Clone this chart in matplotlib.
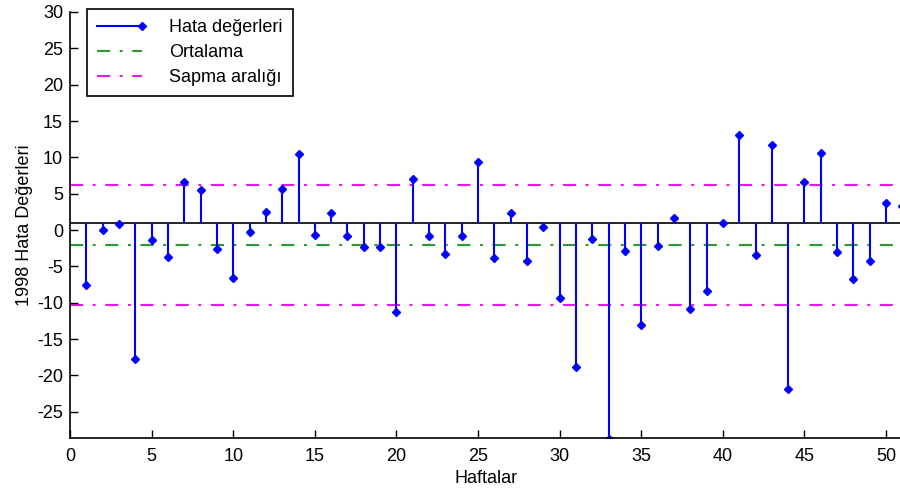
import numpy as np
import matplotlib
matplotlib.use('Agg')
import matplotlib.pyplot as plt
from matplotlib.lines import Line2D
from matplotlib.legend_handler import HandlerLine2D

# Haftalik hata degerleri
weeks = list(range(1, 52))
errors = [-7.55, 0.0, 0.8, -17.8, -1.3, -3.7, 6.6, 5.5, -2.65, -6.55,
          -0.27, 2.47, 5.7, 10.4, -0.64, 2.3, -0.82, -2.3, -2.3, -11.26,
          6.96, -0.82, -3.3, -0.82, 9.38, -3.9, 2.3, -4.3, 0.46, -9.4,
          -18.8, -1.24, -28.7, -2.84, -13.05, -2.24, 1.65, -10.85, -8.38, 1.0,
          13.05, -3.48, 11.68, -21.84, 6.6, 10.62, -3.07, -6.78, -4.3, 3.7,
          3.3]

base_value = 1.0
mean_value = -2.0
upper_value = 6.25
lower_value = -10.25

labels = ['Hata değerleri', 'Ortalama', 'Sapma aralığı']
x_ticks = [0, 5, 10, 15, 20, 25, 30, 35, 40, 45, 50]
y_ticks = [-25, -20, -15, -10, -5, 0, 5, 10, 15, 20, 25, 30]


class EndMarkerHandler(HandlerLine2D):
    # MATLAB style stem legend: marker only at the right end of the line
    def create_artists(self, legend, orig_handle, xdescent, ydescent,
                       width, height, fontsize, trans):
        artists = super().create_artists(legend, orig_handle, xdescent,
                                         ydescent, width, height, fontsize,
                                         trans)
        for a in artists:
            n = len(a.get_xdata())
            a.set_markevery([n - 1])
        return artists


plt.rcParams['font.family'] = ['Liberation Sans', 'DejaVu Sans']
plt.rcParams['font.size'] = 13
plt.rcParams['axes.unicode_minus'] = False

fig = plt.figure(figsize=(9, 4.97), dpi=100)
ax = fig.add_axes([70 / 900, 1 - 438 / 497, 832.4 / 900, 426 / 497])

blue = '#0000ff'
green = '#2e9a2e'
magenta = '#e619e6'
dash_pat = (6.3, 4.6, 1.4, 4.6)

# stems
markers, stems, baseline = ax.stem(weeks, errors, bottom=base_value,
                                   linefmt='-', markerfmt='D')
stems.set_color(blue)
stems.set_linewidth(1.5)
markers.set_color(blue)
markers.set_markersize(4.5)
baseline.set_visible(False)
ax.axhline(base_value, color='black', lw=1.2, zorder=1)

ax.axhline(mean_value, color=green, lw=1.5, dashes=dash_pat, zorder=0.5)
ax.axhline(upper_value, color=magenta, lw=1.5, dashes=dash_pat, zorder=0.5)
ax.axhline(lower_value, color=magenta, lw=1.5, dashes=dash_pat, zorder=0.5)

ax.set_xlim(0, 51)
ax.set_ylim(-28.6, 30)
ax.set_xticks(x_ticks)
ax.set_yticks(y_ticks)
ax.tick_params(direction='in', length=6, width=1, labelsize=13)
ax.tick_params(axis='x', pad=7)
ax.tick_params(axis='y', pad=5)
for side in ['top', 'right']:
    ax.spines[side].set_visible(False)
for side in ['left', 'bottom']:
    ax.spines[side].set_linewidth(1.2)

ax.set_xlabel('Haftalar', fontsize=13, labelpad=4)
ax.set_ylabel('1998 Hata Değerleri', fontsize=13, labelpad=3)

# legend
stem_handle = Line2D([0, 1], [0, 0], color=blue, lw=1.5, marker='D',
                     markersize=4.5)
handles = [
    stem_handle,
    Line2D([0, 1], [0, 0], color=green, lw=1.5, dashes=dash_pat),
    Line2D([0, 1], [0, 0], color=magenta, lw=1.5, dashes=dash_pat),
]
leg = ax.legend(handles, labels, loc='upper left', numpoints=1,
                handler_map={stem_handle: EndMarkerHandler()},
                bbox_to_anchor=(87 / 900, 1 - 9 / 497),
                bbox_transform=fig.transFigure, borderaxespad=0,
                fancybox=False, framealpha=1, edgecolor='black',
                handlelength=2.5, handletextpad=1.5, labelspacing=0.45,
                borderpad=0.55, fontsize=13)
leg.get_frame().set_linewidth(1.2)

fig.savefig('out.png', dpi=100)
